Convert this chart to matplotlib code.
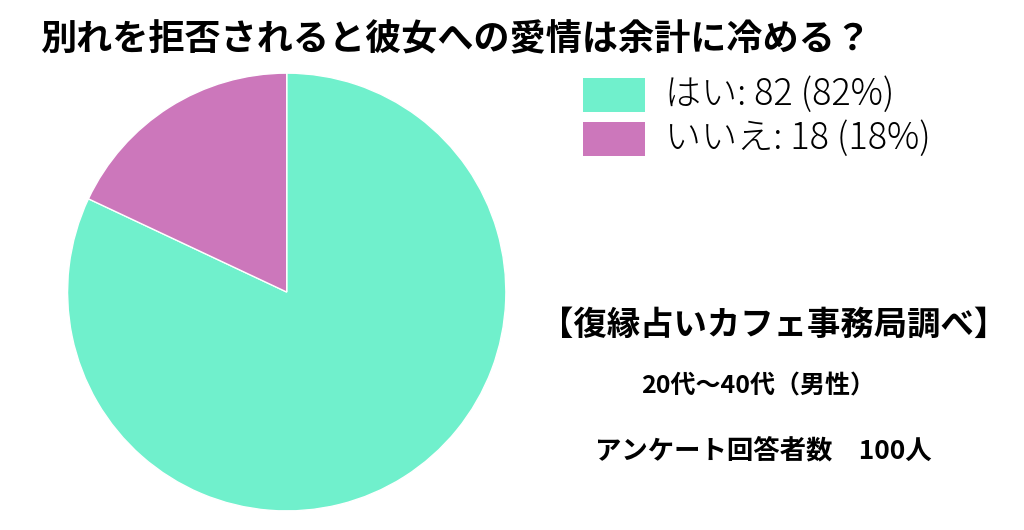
import matplotlib
matplotlib.use("Agg")
import matplotlib.pyplot as plt
import matplotlib.patches as patches

plt.rcParams['font.family'] = ['Noto Sans CJK JP', 'DejaVu Sans']

# ---- data ----
labels = ["はい", "いいえ"]
values = [82, 18]
colors = ["#70F0CC", "#CC77BB"]
title = "別れを拒否されると彼女への愛情は余計に冷める？"

fig = plt.figure(figsize=(10.24, 5.3), dpi=100)

ax = fig.add_axes([0.066, 0.036, 0.428, 0.826])
ax.pie(values, colors=colors, startangle=90, counterclock=False,
       wedgeprops=dict(edgecolor="white", linewidth=1))
ax.set_aspect("auto")
ax.set_xlim(-1, 1)
ax.set_ylim(-1, 1)

fig.text(40 / 1024, 1 - 40 / 530, title, fontsize=26, fontweight="bold",
         va="center", ha="left")

# legend
total = sum(values)
for i, (lab, v, c) in enumerate(zip(labels, values, colors)):
    y0 = 78 + i * 44
    fig.patches.append(patches.Rectangle(
        (583 / 1024, 1 - (y0 + 34) / 530), 62 / 1024, 34 / 530,
        transform=fig.transFigure, facecolor=c, edgecolor="none"))
    fig.text(665 / 1024, 1 - (y0 + 17) / 530,
             f"{lab}: {v} ({v * 100 // total}%)", fontsize=26,
             fontweight="light", va="center", ha="left")

fig.text(540 / 1024, 1 - 325 / 530, "【復縁占いカフェ事務局調べ】",
         fontsize=24, fontweight="bold", va="center", ha="left")
fig.text(758 / 1024, 1 - 387 / 530, "20代〜40代（男性）",
         fontsize=18, fontweight="bold", va="center", ha="center")
fig.text(595 / 1024, 1 - 451 / 530, "アンケート回答者数　100人",
         fontsize=19, fontweight="bold", va="center", ha="left")

fig.savefig("out.png", dpi=100, facecolor="white")
